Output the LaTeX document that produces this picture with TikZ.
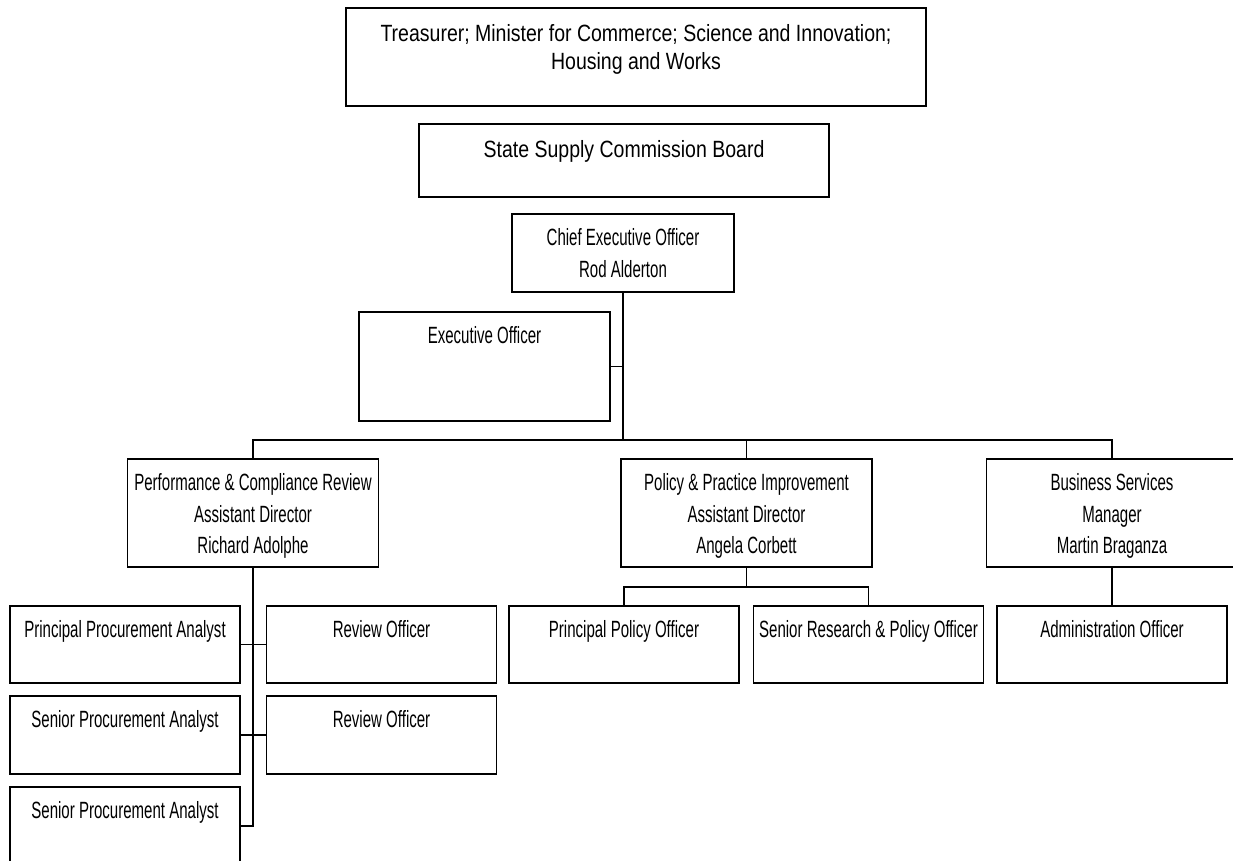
\documentclass[tikz,border=0pt]{standalone}
\usepackage{fontspec}
\setmainfont{Liberation Sans}
\newfontfamily\narrowfont[FakeStretch=0.64]{Liberation Sans}
\newfontfamily\widefont[FakeStretch=0.83]{Liberation Sans}
\begin{document}
\begin{tikzpicture}[x=1pt, y=-1pt,
    unit/.style={draw, line width=1.5pt, inner sep=0pt, minimum width=230pt, minimum height=77pt},
    head/.style={unit, minimum width=251pt, minimum height=108pt},
    tag/.style={anchor=north, align=center, inner xsep=0pt, inner ysep=15pt,
      font=\narrowfont\fontsize{23.5}{31.7}\selectfont},
    toptag/.style={tag, inner ysep=17pt, font=\widefont\fontsize{23.5}{28}\selectfont},
    link/.style={line width=1.5pt}]
\useasboundingbox (0,0) rectangle (1233,861);
\clip (0,0) rectangle (1233,861);

\node[unit, line width=2pt, minimum width=580pt, minimum height=98pt,
  label={[toptag]north:Treasurer; Minister for Commerce; Science and Innovation;\\Housing and Works}] (minister) at (636,57) {};
\node[unit, minimum width=410pt, minimum height=73pt,
  label={[toptag]north:State Supply Commission Board}] (board) at (624,160.5) {};
\node[unit, minimum width=222pt, minimum height=78pt,
  label={[tag]north:Chief Executive Officer\\Rod Alderton}] (ceo) at (623,253) {};
\node[head, minimum height=109pt, label={[tag]north:Executive Officer}] (exo) at (484.5,366.5) {};

\node[head, label={[tag]north:Performance \& Compliance Review\\Assistant Director\\Richard Adolphe}] (pcr) at (253,513) {};
\node[head, label={[tag]north:Policy \& Practice Improvement\\Assistant Director\\Angela Corbett}] (ppi) at (746.5,513) {};
\node[head, label={[tag]north:Business Services\\Manager\\Martin Braganza}] (bsv) at (1112,513) {};

\node[unit, label={[tag]north:Principal Procurement Analyst}] (ppa) at (125,644.5) {};
\node[unit, label={[tag]north:Review Officer}] (rev1) at (381.5,644.5) {};
\node[unit, minimum height=78pt, label={[tag]north:Senior Procurement Analyst}] (spa1) at (125,735) {};
\node[unit, minimum height=78pt, label={[tag]north:Review Officer}] (rev2) at (381.5,735) {};
\node[unit, minimum height=78pt, label={[tag]north:Senior Procurement Analyst}] (spa2) at (125,826) {};

\node[unit, label={[tag]north:Principal Policy Officer}] (ppo) at (624,644.5) {};
\node[unit, label={[tag]north:Senior Research \& Policy Officer}] (srp) at (868.5,644.5) {};
\node[unit, label={[tag]north:Administration Officer}] (adm) at (1112,644.5) {};

\coordinate (hub) at (623,440);
\coordinate (fork) at (746.5,587);

\draw[link] (ceo.south) -- (hub);
\draw[link] (exo.east) -- (exo.east -| hub);
\draw[link] (pcr.north) |- (hub) -| (bsv.north);
\draw[link] (ppi.north) -- (ppi.north |- hub);
\draw[link] (pcr.south) |- (spa2.east);
\draw[link] (ppa.east) -- (rev1.west);
\draw[link] (spa1.east) -- (rev2.west);
\draw[link] (ppi.south) -- (fork);
\draw[link] (ppo.north) |- (fork) -| (srp.north);
\draw[link] (bsv.south) -- (adm.north);
\end{tikzpicture}
\end{document}
